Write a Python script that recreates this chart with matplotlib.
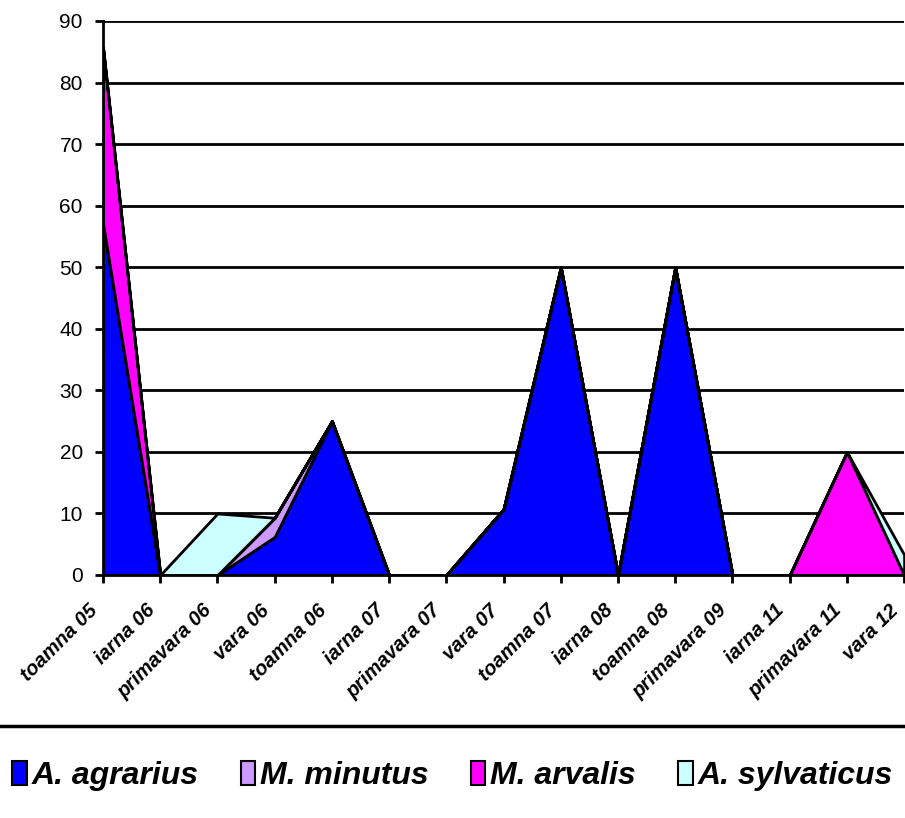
import matplotlib
matplotlib.use("Agg")
import matplotlib.pyplot as plt
from matplotlib.patches import Patch
from matplotlib.lines import Line2D
from matplotlib.transforms import ScaledTranslation

plt.rcParams['font.family'] = ['Liberation Sans', 'DejaVu Sans']

seasons = ["toamna 05", "iarna 06", "primavara 06", "vara 06", "toamna 06",
           "iarna 07", "primavara 07", "vara 07", "toamna 07", "iarna 08",
           "toamna 08", "primavara 09", "iarna 11", "primavara 11", "vara 12"]

a_agrarius   = [57.1, 0, 0, 6.2, 25, 0, 0, 10.7, 50, 0, 50, 0, 0, 0, 0]
m_minutus    = [0, 0, 0, 3.1, 0, 0, 0, 0, 0, 0, 0, 0, 0, 0, 0]
m_arvalis    = [28.6, 0, 0, 0, 0, 0, 0, 0, 0, 0, 0, 0, 0, 20, 0]
a_sylvaticus = [0, 0, 10, 0, 0, 0, 0, 0, 0, 0, 0, 0, 0, 0, 3.3]

species = ["A. agrarius", "M. minutus", "M. arvalis", "A. sylvaticus"]
colors = ["#0000FF", "#CC99FF", "#FF00FF", "#CCFFFF"]

yticks = list(range(0, 91, 10))

fig = plt.figure(figsize=(9.05, 8.18), dpi=100)
ax = fig.add_axes([103 / 905, 1 - 575 / 818, 1 - 103 / 905 - 0.001, (575 - 21) / 818])

x = list(range(len(seasons)))
ax.stackplot(x, a_agrarius, m_minutus, m_arvalis, a_sylvaticus,
             colors=colors, edgecolor="black", linewidth=2.0, zorder=3)

ax.set_xlim(0, len(seasons) - 1)
ax.set_ylim(0, 90)
ax.set_yticks(yticks)
ax.set_yticklabels([str(v) for v in yticks], fontsize=15)
ax.yaxis.grid(True, color="black", linewidth=2.0, zorder=1)
ax.set_axisbelow(True)

ax.set_xticks(x)
ax.set_xticklabels(seasons, rotation=45, ha="right", va="top",
                   rotation_mode="anchor",
                   fontsize=14.5, fontweight="bold", fontstyle="italic")

for side in ("top", "right"):
    ax.spines[side].set_visible(False)
for side in ("left", "bottom"):
    ax.spines[side].set_linewidth(2.0)
    ax.spines[side].set_zorder(5)
ax.tick_params(axis="both", direction="out", length=5.5, width=2.0)
ax.tick_params(axis="x", pad=0)
ax.tick_params(axis="y", pad=9)

# shift the slanted season labels down and to the left of their ticks
shift = ScaledTranslation(-15 / 100, -18 / 100, fig.dpi_scale_trans)
for lbl in ax.get_xticklabels():
    lbl.set_transform(lbl.get_transform() + shift)

# separator above the legend
fig.add_artist(Line2D([0, 1], [1 - 726 / 818, 1 - 726 / 818],
                      color="black", linewidth=2.5, transform=fig.transFigure))

handles = [Patch(facecolor=c, edgecolor="black", linewidth=1.5) for c in colors]
fig.legend(handles, species, loc="center", bbox_to_anchor=(0.5, 1 - 776 / 818),
           ncol=4, frameon=False, handlelength=0.45, handleheight=0.75,
           handletextpad=0.15, columnspacing=1.33,
           prop={"size": 23, "weight": "bold", "style": "italic"})

fig.savefig("out.png", dpi=100)
